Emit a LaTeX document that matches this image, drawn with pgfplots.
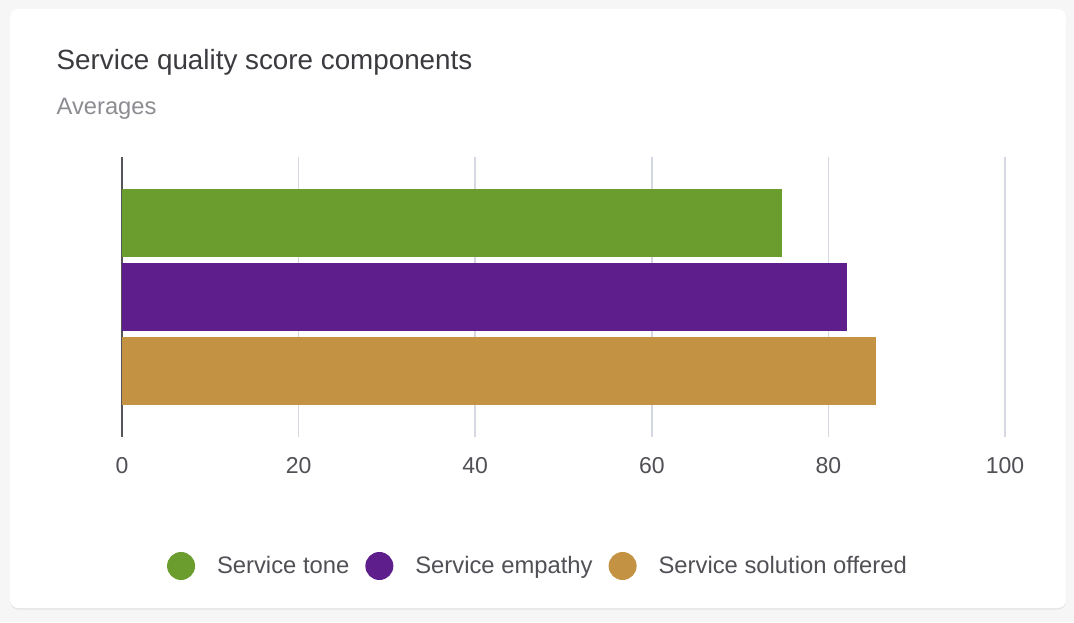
\documentclass[border=0pt]{standalone}
\usepackage{pgfplots}
\pgfplotsset{compat=1.18}
\usepackage{fontspec}
\setmainfont{Liberation Sans}
\definecolor{bg}{HTML}{F6F6F6}
\definecolor{titlec}{HTML}{3A3A3F}
\definecolor{subc}{HTML}{8C8C92}
\definecolor{tickc}{HTML}{505056}
\definecolor{legc}{HTML}{505056}
\definecolor{axisc}{HTML}{555559}
\definecolor{gridc}{HTML}{D5D8E0}
\definecolor{cgreen}{HTML}{6A9D2E}
\definecolor{cpurple}{HTML}{5E1E8C}
\definecolor{cgold}{HTML}{C49243}
\begin{document}
\begin{tikzpicture}
\fill[bg] (0pt,0pt) rectangle (1074pt,622pt);
\fill[black!10, rounded corners=8pt] (10pt,12.5pt) rectangle (1066pt,612pt);
\fill[white, rounded corners=8pt] (10pt,14pt) rectangle (1066pt,613pt);
\node[anchor=base west, inner sep=0pt, text=titlec, font=\fontsize{27.8}{32}\selectfont] at (56.5pt,552pt) {Service quality score components};
\node[anchor=base west, inner sep=0pt, text=subc, font=\fontsize{23.7}{28}\selectfont] at (56.5pt,507pt) {Averages};
\begin{axis}[
  at={(122pt,185pt)}, anchor=south west,
  scale only axis, width=883pt, height=280pt,
  xmin=0, xmax=100, ymin=-1, ymax=1,
  xbar, bar width=67.5pt, bar shift=0pt,
  axis y line*=left, axis x line*=bottom,
  x axis line style={draw=none},
  y axis line style={draw=axisc, line width=1.5pt},
  ytick=\empty,
  xtick={0,20,...,100},
  xmajorgrids,
  major grid style={draw=gridc, line width=1.5pt},
  major tick length=0pt, tick style={draw=none},
  xticklabel style={anchor=base, inner sep=0pt, yshift=-36pt, font=\fontsize{23}{27}\selectfont, text=tickc},
  /pgf/number format/assume math mode=true,
  clip=false,
  legend columns=3,
  legend style={at={(0.4711,-0.4607)}, anchor=center, draw=none, fill=none, inner sep=0pt,
    font=\fontsize{23.8}{28}\selectfont, text=legc,
    /tikz/every odd column/.append style={column sep=20pt},
    /tikz/every even column/.append style={column sep=14pt}},
  legend image code/.code={\fill[#1] (14pt,0pt) circle (14pt);},
]
\addplot[fill=cgreen, draw=none] coordinates {(74.8,0.53)};
\addlegendentry{Service tone}
\addplot[fill=cpurple, draw=none] coordinates {(82.1,0)};
\addlegendentry{Service empathy}
\addplot[fill=cgold, draw=none] coordinates {(85.4,-0.53)};
\addlegendentry{Service solution offered}
\end{axis}
\end{tikzpicture}
\end{document}
